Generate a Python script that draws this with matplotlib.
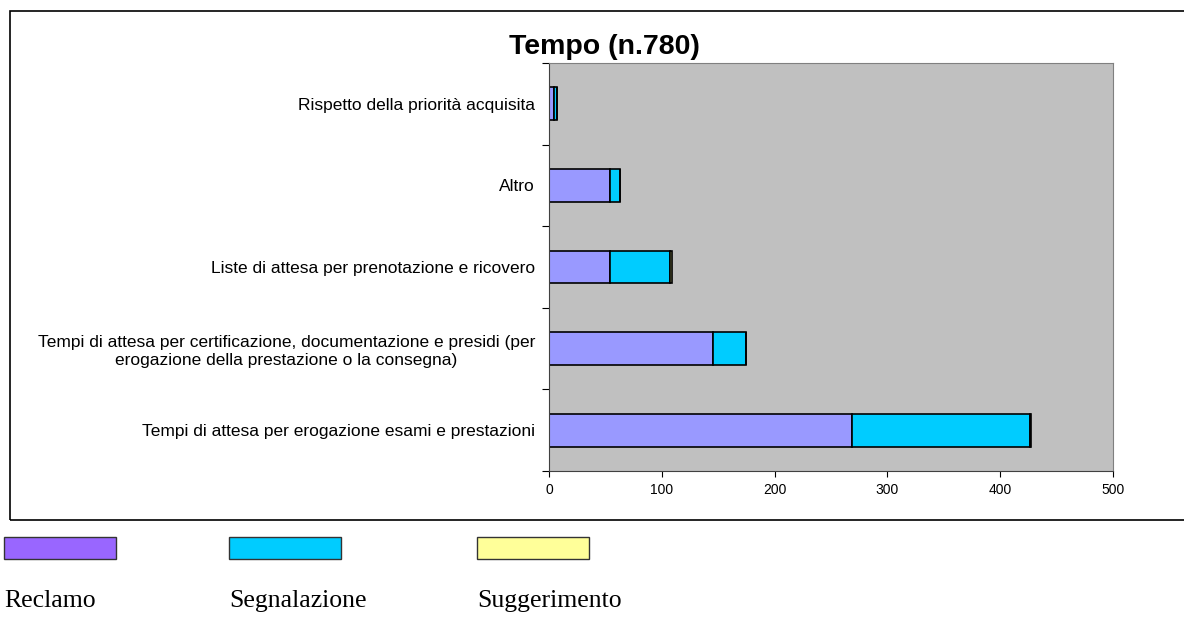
import matplotlib
matplotlib.use("Agg")
import matplotlib.pyplot as plt
from matplotlib.patches import Rectangle
import numpy as np

categories = [
    "Tempi di attesa per erogazione esami e prestazioni",
    "Tempi di attesa per certificazione, documentazione e presidi (per\nerogazione della prestazione o la consegna)",
    "Liste di attesa per prenotazione e ricovero",
    "Altro",
    "Rispetto della priorità acquisita",
]
reclamo = [269, 145, 54, 54, 4]
segnalazione = [157, 30, 53, 9, 3]
suggerimento = [1, 0, 2, 0, 0]

series_names = ["Reclamo", "Segnalazione", "Suggerimento"]
bar_colors = ["#9999FF", "#00CCFF", "#FFFF99"]
legend_colors = ["#9966FF", "#00CCFF", "#FFFF99"]

W, H = 1184, 627
plt.rcParams["font.family"] = ["Liberation Sans", "DejaVu Sans"]
fig = plt.figure(figsize=(W / 100, H / 100), dpi=100)

# outer chart frame (runs off the right edge like the original)
fig.patches.append(Rectangle((10 / W, 1 - 520 / H), 1.2, (520 - 11) / H,
                             transform=fig.transFigure, fill=False,
                             edgecolor="black", lw=1.2))

ax = fig.add_axes([549 / W, 1 - 471 / H, (1113 - 549) / W, (471 - 63) / H])
ax.set_facecolor("#C0C0C0")

y = np.arange(len(categories))
left = np.zeros(len(categories))
for vals, col in zip([reclamo, segnalazione, suggerimento], bar_colors):
    ax.barh(y, vals, left=left, height=0.40, color=col,
            edgecolor="black", linewidth=1.2)
    left += np.array(vals)

ax.set_xlim(0, 500)
ax.set_ylim(-0.5, len(categories) - 0.5)
ax.set_xticks([0, 100, 200, 300, 400, 500])
ax.tick_params(axis="x", labelsize=10, length=4, direction="out", pad=5)
ax.set_yticks(np.arange(len(categories) + 1) - 0.5)
ax.set_yticklabels([])
ax.set_yticks(y, minor=True)
ax.set_yticklabels(categories, minor=True, fontsize=12.5, ha="right")
ax.tick_params(axis="y", which="minor", length=0, pad=10)
ax.tick_params(axis="y", which="major", length=5, direction="out")
for lbl in ax.get_yticklabels(minor=True):
    lbl.set_multialignment("center")
    lbl.set_linespacing(1.2)
for s in ["top", "right"]:
    ax.spines[s].set_color("#808080")
ax.spines["left"].set_color("#404040")
ax.spines["bottom"].set_color("#404040")

fig.text(604 / W, 1 - 47 / H, "Tempo (n.780)", ha="center", va="center",
         fontsize=20.5, fontweight="bold")

# legend below the frame
xs = [4, 229, 477]
for x0, col, name in zip(xs, legend_colors, series_names):
    fig.patches.append(Rectangle((x0 / W, 1 - 559 / H), 112 / W, 22 / H,
                                 transform=fig.transFigure, facecolor=col,
                                 edgecolor="#333333", lw=1))
    fig.text(x0 / W, 1 - 601 / H, name, ha="left", va="center",
             fontsize=18.5, family=["Liberation Serif", "DejaVu Serif"])

fig.savefig("out.png", dpi=100)
